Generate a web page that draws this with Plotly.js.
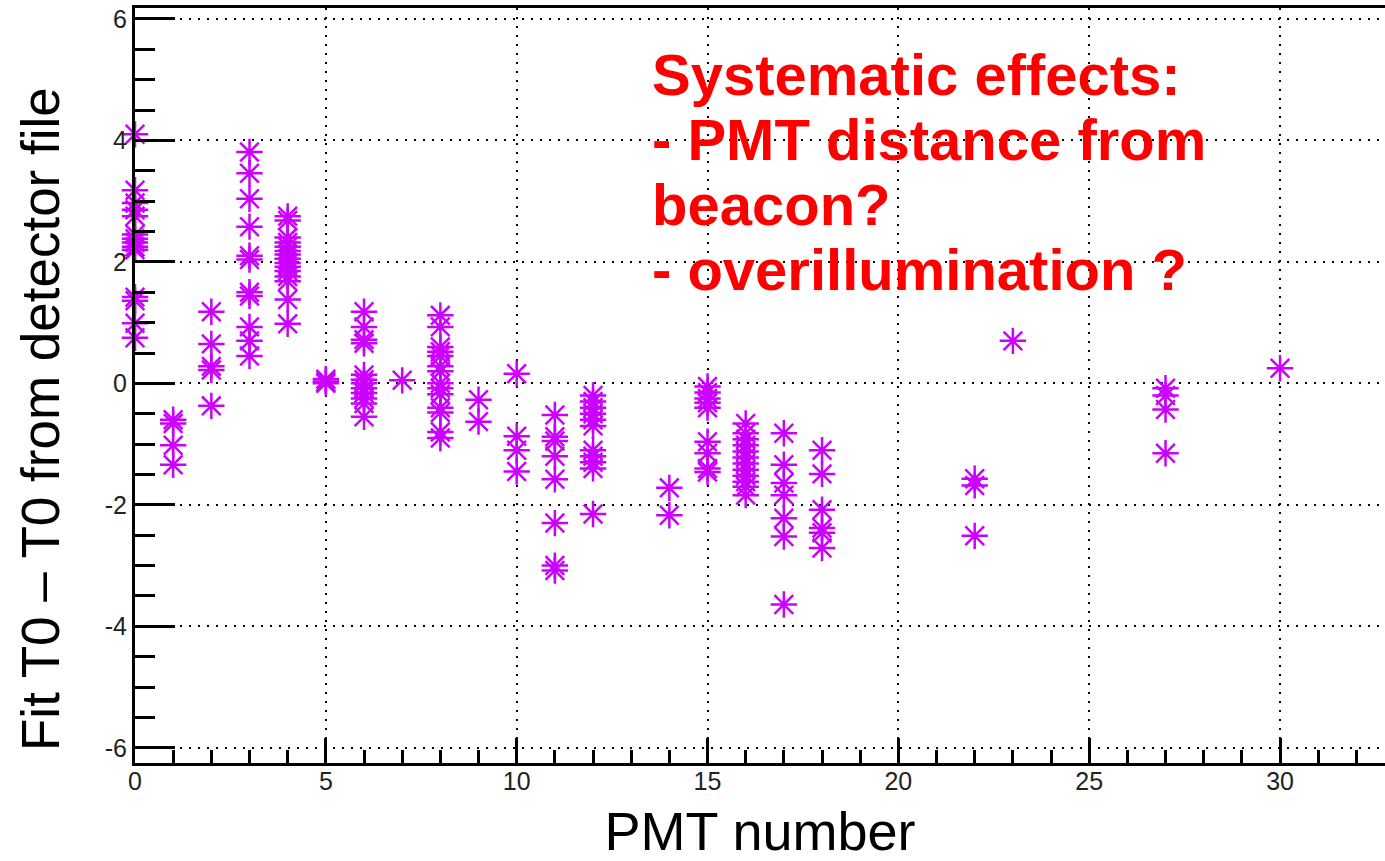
<!DOCTYPE html>
<html>
<head>
<meta charset="utf-8">
<script src="https://cdn.plot.ly/plotly-3.0.1.min.js"></script>
<style>html,body{margin:0;padding:0;background:#fff;}#chart{width:1385px;height:861px;}</style>
</head>
<body>
<div id="chart"></div>
<script>
// PMT number of each fitted measurement
const pmtNumber = [
  0,0,0,0,0,0,0,0,0,0,0,0,0,0,
  1,1,1,1,
  2,2,2,2,2,
  3,3,3,3,3,3,3,3,3,3,3,
  4,4,4,4,4,4,4,4,4,4,4,4,4,4,4,
  5,5,5,
  6,6,6,6,6,6,6,6,6,6,6,6,
  7,
  8,8,8,8,8,8,8,8,8,8,8,8,8,8,
  9,9,
  10,10,10,10,
  11,11,11,11,11,11,11,11,
  12,12,12,12,12,12,12,12,12,12,12,
  14,14,
  15,15,15,15,15,15,15,15,15,
  16,16,16,16,16,16,16,16,16,16,16,16,
  17,17,17,17,17,17,17,
  18,18,18,18,18,18,
  22,22,22,
  23,
  27,27,27,27,
  30
];
// Fit T0 - T0 from detector file (same order as pmtNumber)
const t0Difference = [
  4.10, 3.18, 2.97, 2.86, 2.75, 2.45, 2.38, 2.32, 2.25, 2.20, 1.42, 1.36, 0.99, 0.75,
  -0.60, -0.66, -1.02, -1.34,
  1.18, 0.65, 0.28, 0.22, -0.37,
  3.81, 3.46, 3.04, 2.58, 2.10, 2.04, 1.50, 1.44, 0.93, 0.70, 0.45,
  2.75, 2.68, 2.40, 2.32, 2.25, 2.18, 2.12, 2.05, 1.98, 1.92, 1.85, 1.76, 1.68, 1.38, 0.98,
  0.07, 0.03, 0.00,
  1.18, 0.93, 0.72, 0.66, 0.14, 0.06, 0.00, -0.08, -0.16, -0.25, -0.33, -0.55,
  0.05,
  1.12, 0.93, 0.60, 0.52, 0.45, 0.28, 0.20, 0.00, -0.08, -0.18, -0.40, -0.48, -0.80, -0.90,
  -0.27, -0.63,
  0.16, -0.87, -1.10, -1.45,
  -0.52, -0.88, -0.95, -1.20, -1.58, -2.30, -3.00, -3.08,
  -0.20, -0.30, -0.40, -0.50, -0.60, -0.70, -1.10, -1.20, -1.30, -1.40, -2.15,
  -1.72, -2.17,
  -0.05, -0.15, -0.25, -0.32, -0.40, -0.96, -1.15, -1.40, -1.46,
  -0.66, -0.82, -0.92, -1.02, -1.12, -1.22, -1.32, -1.42, -1.52, -1.62, -1.70, -1.84,
  -0.82, -1.34, -1.64, -1.84, -2.22, -2.52, -3.64,
  -1.10, -1.49, -2.08, -2.38, -2.46, -2.71,
  -1.57, -1.68, -2.51,
  0.70,
  -0.08, -0.20, -0.43, -1.15,
  0.25
];
// y tick values and labels (ROOT-style hyphen minus)
const yTickValues = [-6, -4, -2, 0, 2, 4, 6];
const yTickLabels = ['-6', '-4', '-2', '0', '2', '4', '6'];
const xTitle = 'PMT number';
const yTitle = 'Fit T0 \u2013 T0 from detector file';
const noteLines = ['Systematic effects:', '- PMT distance from', 'beacon?', '- overillumination ?'];

const FONT = 'Liberation Sans, Arial, Helvetica, sans-serif';
const trace = {
  type: 'scatter',
  mode: 'markers',
  x: pmtNumber,
  y: t0Difference,
  cliponaxis: false,
  hoverinfo: 'x+y',
  marker: {
    symbol: 'asterisk-open',
    size: 22,
    color: '#cc00ff',
    line: {color: '#cc00ff', width: 2.5}
  }
};

const axisCommon = {
  showline: true, linecolor: '#000', linewidth: 3,
  ticks: 'inside', tickcolor: '#000', tickwidth: 3,
  showgrid: true, gridcolor: '#000', gridwidth: 2, griddash: '2px,7px',
  zeroline: false,
  tickfont: {family: FONT, size: 25, color: '#222'}
};

// plot area in pixels: top 8, bottom 763 -> height 755
const PLOT_TOP = 8, PLOT_BOTTOM = 763;
function paperY(py) { return (PLOT_BOTTOM - py) / (PLOT_BOTTOM - PLOT_TOP); }
const noteCenters = [74, 139, 204, 269];
const FS = 58;

const annotations = noteLines.map((line, i) => ({
  xref: 'paper', yref: 'paper',
  x: (650 - 135) / 1250, y: paperY(noteCenters[i]),
  xanchor: 'left', yanchor: 'middle', align: 'left',
  showarrow: false,
  text: line,
  font: {family: FONT, size: FS, color: '#ff0000', weight: 'bold'}
}));
annotations.push({
  xref: 'paper', yref: 'paper',
  x: (41 - 135) / 1250, y: paperY(419),
  xanchor: 'center', yanchor: 'middle',
  showarrow: false, textangle: -90,
  text: yTitle,
  font: {family: FONT, size: 53, color: '#000'}
});

const layout = {
  width: 1385, height: 861,
  margin: {l: 135, r: 0, t: PLOT_TOP, b: 861 - PLOT_BOTTOM},
  paper_bgcolor: '#fff', plot_bgcolor: '#fff',
  showlegend: false,
  font: {family: FONT},
  xaxis: Object.assign({}, axisCommon, {
    range: [0, 32.75],
    dtick: 5, tick0: 0,
    ticklen: 25,
    ticklabelstandoff: -6,
    mirror: true,
    minor: {dtick: 1, ticklen: 13, tickwidth: 3, tickcolor: '#000', ticks: 'inside', showgrid: false},
    title: {text: xTitle, font: {family: FONT, size: 54, color: '#000'}, standoff: 21}
  }),
  yaxis: Object.assign({}, axisCommon, {
    range: [-6.25, 6.18],
    tickmode: 'array', tickvals: yTickValues, ticktext: yTickLabels,
    ticklen: 40,
    minor: {dtick: 0.5, tick0: 0, ticklen: 20, tickwidth: 3, tickcolor: '#000', ticks: 'inside', showgrid: false}
  }),
  annotations: annotations
};

Plotly.newPlot('chart', [trace], layout, {displayModeBar: false, staticPlot: true});
</script>
</body>
</html>
